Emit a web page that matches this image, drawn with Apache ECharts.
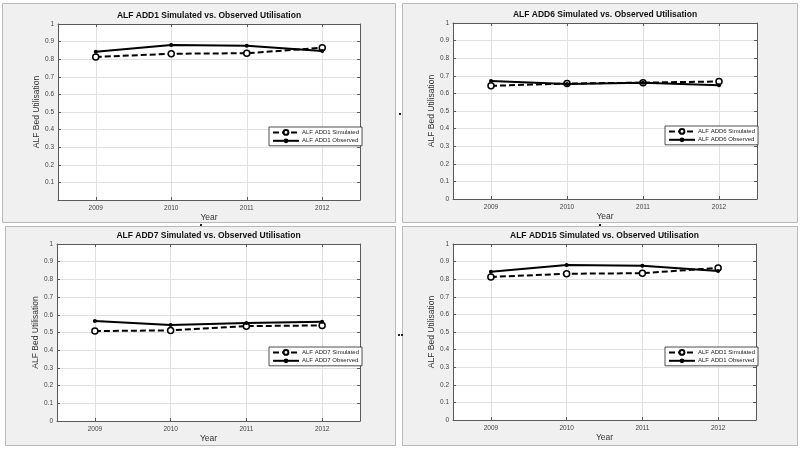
<!DOCTYPE html>
<html><head><meta charset="utf-8">
<script src="https://cdn.jsdelivr.net/npm/echarts@6/dist/echarts.min.js"></script>
<style>html,body{margin:0;padding:0;background:#fff;}#c{width:800px;height:450px;}</style>
</head><body><div id="c"></div>
<script>
const years = [2009, 2010, 2011, 2012];
const yTicks = [0, 0.1, 0.2, 0.3, 0.4, 0.5, 0.6, 0.7, 0.8, 0.9, 1];

const titles = [
  'ALF ADD1 Simulated vs. Observed Utilisation',
  'ALF ADD6 Simulated vs. Observed Utilisation',
  'ALF ADD7 Simulated vs. Observed Utilisation',
  'ALF ADD15 Simulated vs. Observed Utilisation'
];
const simNames = ['ALF ADD1 Simulated', 'ALF ADD6 Simulated', 'ALF ADD7 Simulated', 'ALF ADD1 Simulated'];
const obsNames = ['ALF ADD1 Observed', 'ALF ADD6 Observed', 'ALF ADD7 Observed', 'ALF ADD1 Observed'];

const add1Simulated = [0.813, 0.831, 0.834, 0.865];
const add1Observed  = [0.843, 0.881, 0.877, 0.847];
const add6Simulated = [0.643, 0.656, 0.661, 0.668];
const add6Observed  = [0.670, 0.654, 0.660, 0.646];
const add7Simulated = [0.508, 0.512, 0.536, 0.540];
const add7Observed  = [0.565, 0.543, 0.554, 0.561];
const add15Simulated = [0.813, 0.831, 0.834, 0.864];
const add15Observed  = [0.843, 0.881, 0.876, 0.847];

const simData = [add1Simulated, add6Simulated, add7Simulated, add15Simulated];
const obsData = [add1Observed, add6Observed, add7Observed, add15Observed];

const xAxisName = 'Year';
const yAxisName = 'ALF Bed Utilisation';

// layout
const grids = [
  {left: 58, top: 24, width: 302, height: 176},
  {left: 453, top: 23, width: 304, height: 176},
  {left: 57, top: 244, width: 303, height: 177},
  {left: 453, top: 244, width: 303, height: 176}
];
const panels = [
  {x: 2, y: 3, w: 393, h: 219},
  {x: 402, y: 3, w: 395, h: 219},
  {x: 5, y: 226, w: 390, h: 219},
  {x: 402, y: 226, w: 395, h: 219}
];
const legendPos = [
  {left: 269, top: 127},
  {left: 665, top: 126},
  {left: 269, top: 347},
  {left: 665, top: 347}
];

const FONT = 'Liberation Sans, Arial, sans-serif';
const axisColor = '#5a5a5a';
const labelColor = '#444';
const gridColor = '#e0e0e0';

const option = {
  backgroundColor: '#fff',
  animation: false,
  textStyle: {fontFamily: FONT},
  graphic: [],
  title: [], grid: [], xAxis: [], yAxis: [], legend: [], series: []
};

panels.forEach(p => {
  option.graphic.push({type: 'rect', z: -10, silent: true,
    shape: {x: p.x + 0.5, y: p.y + 0.5, width: p.w, height: p.h},
    style: {fill: '#f0f0f0', stroke: '#b9b9b9', lineWidth: 1}});
});
// small handle dots
[[201, 225], [400, 114], [399, 335], [402, 335], [600, 225]].forEach(d => {
  option.graphic.push({type: 'rect', z: 10, silent: true,
    shape: {x: d[0] - 1, y: d[1] - 1, width: 2, height: 2}, style: {fill: '#222'}});
});

for (let i = 0; i < 4; i++) {
  const g = grids[i];
  option.grid.push(Object.assign({containLabel: false, backgroundColor: '#fff', show: true, borderWidth: 0}, g));
  option.title.push({
    text: titles[i], left: g.left + g.width / 2, top: g.top - 13, textAlign: 'center', padding: 0,
    textStyle: {fontSize: 8.5, fontWeight: 'bold', color: '#111', fontFamily: FONT}
  });
  const hideZero = i === 0;
  // bottom x
  option.xAxis.push({
    type: 'value', gridIndex: i, position: 'bottom', min: 2008.5, max: 2012.5, splitNumber: 4,
    name: xAxisName, nameLocation: 'middle', nameGap: 13,
    nameTextStyle: {fontSize: 8.5, color: '#333', fontFamily: FONT},
    axisLine: {show: true, onZero: false, lineStyle: {color: axisColor, width: 1}},
    axisTick: {show: true, inside: true, length: 3, lineStyle: {color: axisColor}},
    axisLabel: {fontSize: 6.5, color: labelColor, margin: 5, fontFamily: FONT,
      formatter: v => (Math.abs(v - Math.round(v)) < 1e-6 ? String(Math.round(v)) : '')},
    splitLine: {show: true, lineStyle: {color: gridColor, width: 1}}
  });
  // top x (box)
  option.xAxis.push({
    type: 'value', gridIndex: i, position: 'top', min: 2008.5, max: 2012.5, splitNumber: 4,
    axisLine: {show: true, onZero: false, lineStyle: {color: axisColor, width: 1}},
    axisTick: {show: true, inside: true, length: 3, lineStyle: {color: axisColor}},
    axisLabel: {show: false}, splitLine: {show: false}
  });
  // left y
  option.yAxis.push({
    type: 'value', gridIndex: i, position: 'left', min: 0, max: 1, interval: 0.1,
    name: yAxisName, nameLocation: 'middle', nameGap: 16,
    nameTextStyle: {fontSize: 8.5, color: '#333', fontFamily: FONT},
    axisLine: {show: true, onZero: false, lineStyle: {color: axisColor, width: 1}},
    axisTick: {show: true, inside: true, length: 3, lineStyle: {color: axisColor}},
    axisLabel: {fontSize: 6.5, color: labelColor, margin: 4, fontFamily: FONT,
      formatter: v => {
        const r = Math.round(v * 10) / 10;
        if (hideZero && r === 0) return '';
        return String(r);
      }},
    splitLine: {show: true, lineStyle: {color: gridColor, width: 1}}
  });
  // right y (box)
  option.yAxis.push({
    type: 'value', gridIndex: i, position: 'right', min: 0, max: 1, interval: 0.1,
    axisLine: {show: true, onZero: false, lineStyle: {color: axisColor, width: 1}},
    axisTick: {show: true, inside: true, length: 3, lineStyle: {color: axisColor}},
    axisLabel: {show: false}, splitLine: {show: false}
  });

  option.series.push({
    type: 'line', name: simNames[i], xAxisIndex: 2 * i, yAxisIndex: 2 * i, z: 3,
    data: years.map((y, k) => [y, simData[i][k]]),
    symbol: 'circle', symbolSize: 6,
    itemStyle: {color: '#fff', borderColor: '#000', borderWidth: 1.5},
    lineStyle: {color: '#000', width: 2, type: [6, 3]},
    color: '#000'
  });
  option.series.push({
    type: 'line', name: obsNames[i], xAxisIndex: 2 * i, yAxisIndex: 2 * i, z: 4,
    data: years.map((y, k) => [y, obsData[i][k]]),
    symbol: 'circle', symbolSize: 4,
    itemStyle: {color: '#000', borderColor: '#000', borderWidth: 0},
    lineStyle: {color: '#000', width: 2, type: 'solid'},
    color: '#000'
  });

  option.legend.push({
    orient: 'vertical', left: legendPos[i].left, top: legendPos[i].top,
    data: [simNames[i], obsNames[i]],
    itemWidth: 26, itemHeight: 6, itemGap: 2, padding: [2, 3, 2, 3],
    backgroundColor: '#fff', borderColor: '#222', borderWidth: 0.8, borderRadius: 0,
    selectedMode: false,
    textStyle: {fontSize: 6, color: '#222', padding: [0, 0, 0, -2], fontFamily: FONT}
  });
}

const chart = echarts.init(document.getElementById('c'), null, {renderer: 'canvas'});
chart.setOption(option);
</script>
</body></html>
